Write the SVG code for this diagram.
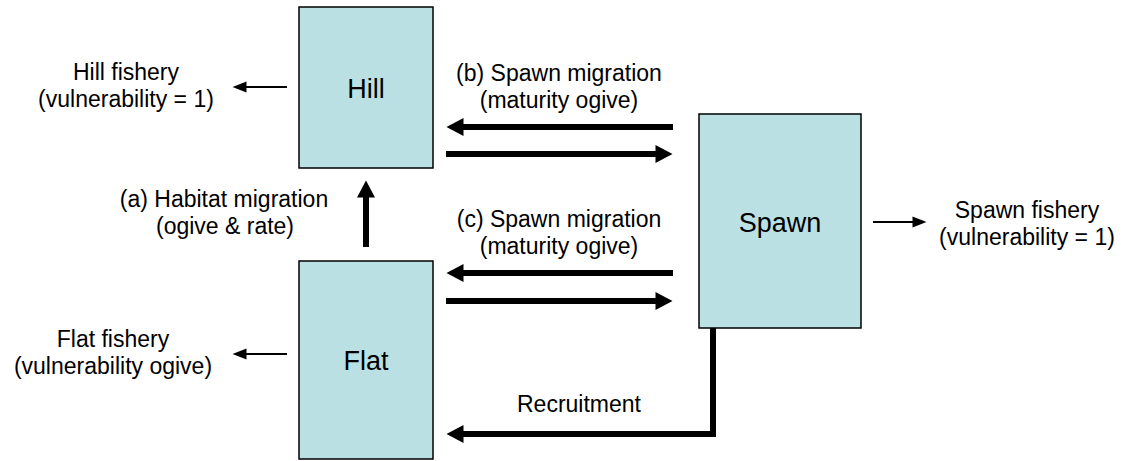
<svg xmlns="http://www.w3.org/2000/svg" width="1122" height="461" viewBox="0 0 1122 461">
<defs>
<style>
.box{fill:#BBE0E3;stroke:#000;stroke-width:1.5}
.lbl{font-family:"Liberation Sans",Arial,sans-serif;font-size:23px;fill:#000;text-anchor:middle}
.big{font-family:"Liberation Sans",Arial,sans-serif;font-size:27px;fill:#000;text-anchor:middle}
.thick{stroke:#000;stroke-width:6;fill:none;marker-end:url(#hb)}
.thin{stroke:#000;stroke-width:2;fill:none;marker-end:url(#hs)}
</style>
<marker id="hb" markerUnits="userSpaceOnUse" markerWidth="18" markerHeight="18" refX="0.5" refY="9" orient="auto" overflow="visible">
<path d="M0,0 L17,9 L0,18 z" fill="#000"/>
</marker>
<marker id="hs" markerUnits="userSpaceOnUse" markerWidth="15" markerHeight="12" refX="0.5" refY="5.5" orient="auto" overflow="visible">
<path d="M0,0 L14,5.5 L0,11 z" fill="#000"/>
</marker>
</defs>
<rect width="1122" height="461" fill="#fff"/>
<g id="connectors">
<line class="thick" x1="673" y1="127" x2="463" y2="127"/>
<line class="thick" x1="446" y1="154" x2="656" y2="154"/>
<line class="thick" x1="673" y1="273" x2="463" y2="273"/>
<line class="thick" x1="446" y1="301" x2="656" y2="301"/>
<polyline class="thick" points="713,328 713,434 463,434" stroke-linejoin="miter"/>
<line class="thick" x1="366" y1="247" x2="366" y2="197"/>
<line class="thin" x1="287" y1="87" x2="246" y2="87"/>
<line class="thin" x1="287" y1="354" x2="246" y2="354"/>
<line class="thin" x1="873" y1="222" x2="913" y2="222"/>
</g>
<g id="hill">
<rect class="box" x="299" y="7" width="134" height="161"/>
<text class="big" x="366" y="98">Hill</text>
</g>
<g id="flat">
<rect class="box" x="299" y="261" width="134" height="198"/>
<text class="big" x="366" y="370">Flat</text>
</g>
<g id="spawn">
<rect class="box" x="699" y="114" width="162" height="214"/>
<text class="big" x="780" y="232">Spawn</text>
</g>
<g id="labels">
<text class="lbl" x="126" y="80">Hill fishery</text>
<text class="lbl" x="126" y="107">(vulnerability = 1)</text>
<text class="lbl" x="113" y="347">Flat fishery</text>
<text class="lbl" x="113" y="374">(vulnerability ogive)</text>
<text class="lbl" x="1027" y="218">Spawn fishery</text>
<text class="lbl" x="1027" y="245">(vulnerability = 1)</text>
<text class="lbl" x="224" y="207">(a) Habitat migration</text>
<text class="lbl" x="225" y="234">(ogive &amp; rate)</text>
<text class="lbl" x="559" y="81">(b) Spawn migration</text>
<text class="lbl" x="559" y="108">(maturity ogive)</text>
<text class="lbl" x="559" y="227">(c) Spawn migration</text>
<text class="lbl" x="559" y="254">(maturity ogive)</text>
<text class="lbl" x="579" y="412">Recruitment</text>
</g>
</svg>
